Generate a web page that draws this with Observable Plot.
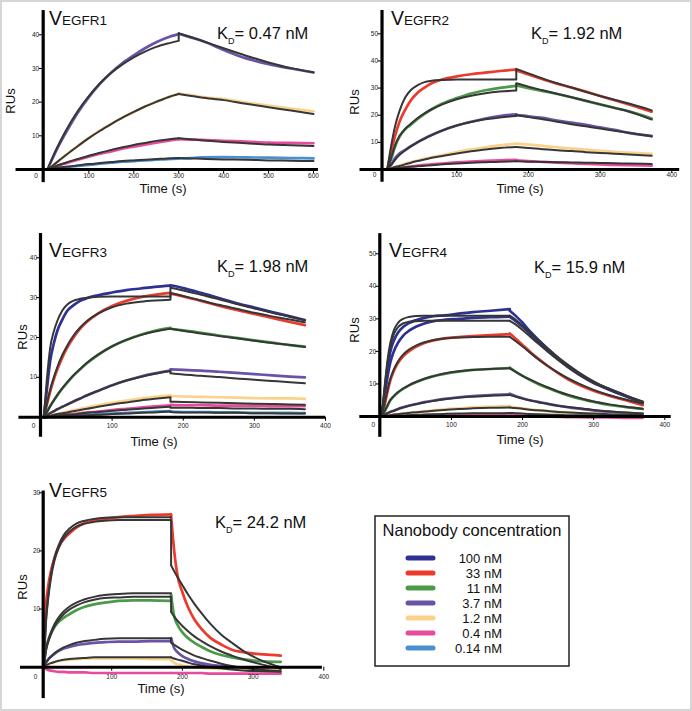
<!DOCTYPE html>
<html><head><meta charset="utf-8">
<script src="https://cdn.jsdelivr.net/npm/d3@7"></script>
<script src="https://cdn.jsdelivr.net/npm/@observablehq/plot@0.6"></script>
<style>
body{margin:0;background:#fff;}
#fig{position:relative;width:692px;height:711px;overflow:hidden;background:#fff;font-family:"Liberation Sans",Arial,Helvetica,sans-serif;}
#frame{position:absolute;left:0;top:0;width:692px;height:711px;box-sizing:border-box;border:2px solid #d6d6d6;pointer-events:none;}
</style></head><body><div id="fig"><div id="frame"></div></div>
<script>
// ---------- shared categories ----------
const concLabels = ["100 nM","33 nM","11 nM","3.7 nM","1.2 nM","0.4 nM","0.14 nM"];
const concColors = ["#2e3192","#ec3b2c","#4b9a48","#6a53a6","#fcd28b","#e84b9b","#4a8fd0"];
const panelNames = ["VEGFR1","VEGFR2","VEGFR3","VEGFR4","VEGFR5"];
const kdValues = ["0.47","1.92","1.98","15.9","24.2"];
const legendTitle = "Nanobody concentration";

// ---------- Panel 1: VEGFR1 ----------
const p1XTicks = [100,200,300,400,500,600];
const p1YTicks = [10,20,30,40];
const p1TimeA = [8,20,35,50,75,100,125,150,175,200,225,250,275,300];
const p1TimeD = [300,325,350,400,450,500,550,600];
const p1DataA = {
  "3.7 nM": [0,3.5,7.6,11.2,16.8,21.5,25.5,28.8,31.6,33.9,36,37.8,39.2,40.2],
  "1.2 nM": [0,1.2,2.8,4.4,6.9,9.4,11.6,13.6,15.4,17.1,18.7,20.1,21.4,22.5],
  "0.4 nM": [0,0.6,1.3,1.9,2.9,3.8,4.7,5.4,6.2,6.8,7.4,8,8.5,9],
  "0.14 nM": [0,0.2,0.5,0.7,1.1,1.4,1.7,2,2.3,2.5,2.7,2.9,3.1,3.2]
};
const p1FitA = {
  "3.7 nM": [0,3.8,8,11.8,17.3,21.8,25.6,28.7,31.2,33.3,35,36.4,37.4,38.2],
  "1.2 nM": [0,1.2,2.8,4.4,6.9,9.3,11.5,13.5,15.4,17.1,18.7,20.1,21.4,22.4],
  "0.4 nM": [0,0.6,1.4,2.1,3.1,4.1,5,5.8,6.6,7.3,7.9,8.5,8.9,9.3],
  "0.14 nM": [0,0.3,0.6,0.8,1.2,1.6,1.9,2.2,2.5,2.7,2.9,3.1,3.3,3.4]
};
const p1DataD = {
  "3.7 nM": [40.3,39.3,38.3,35.5,33,31.3,30,28.8],
  "1.2 nM": [22.6,22.1,21.6,20.9,19.9,19,18.1,17.3],
  "0.4 nM": [9,8.9,8.8,8.5,8.3,8,7.9,7.8],
  "0.14 nM": [3.3,3.4,3.6,3.7,3.6,3.5,3.4,3.3]
};
const p1FitD = {
  "3.7 nM": [40.5,39.4,38.3,36,33.8,31.8,30.1,28.9],
  "1.2 nM": [22.4,21.9,21.4,20.6,19.5,18.5,17.5,16.5],
  "0.4 nM": [9.3,9,8.7,8.2,7.8,7.4,7.2,7],
  "0.14 nM": [3.4,3.3,3.2,3,2.9,2.7,2.6,2.5]
};

// ---------- Panel 2: VEGFR2 ----------
const p2XTicks = [100,200,300,400];
const p2YTicks = [10,20,30,40,50];
const p2TimeA = [3,8,14,20,28,36,45,55,65,80,100,120,140,160,183];
const p2TimeD = [183,200,220,240,260,280,300,320,340,372];
const p2DataA = {
  "33 nM": [0,6,12.5,17.5,22,25.5,28.2,30.2,31.8,33.2,34.3,35.1,35.7,36.3,36.8],
  "11 nM": [0,3.5,8.5,12,14.8,16.5,18.5,20.5,22.2,24.3,26.3,28,29.2,30.1,30.8],
  "3.7 nM": [0,1.5,4.2,5.9,7.2,8.6,10,11.4,12.7,14.4,16.2,17.6,18.8,19.7,20.3],
  "1.2 nM": [0,0.5,1,1.5,2.1,2.7,3.3,4,4.5,5.3,6.4,7.4,8.2,8.9,9.5],
  "0.4 nM": [0,0.2,0.4,0.6,0.9,1.1,1.4,1.7,1.9,2.2,2.6,2.9,3.2,3.4,3.6]
};
const p2FitA = {
  "33 nM": [0,8,16,21.5,26.5,29.3,31,32.2,32.7,33,33.2,33.2,33.2,33.2,33.2],
  "11 nM": [0,4,9,12.3,15,16.9,18.9,20.7,22.2,24,25.9,27.2,28.1,28.7,29.1],
  "3.7 nM": [0,1.6,3.6,5.3,7,8.5,10,11.4,12.7,14.4,16.2,17.5,18.5,19.2,19.7],
  "1.2 nM": [0,0.4,0.9,1.3,1.9,2.5,3.1,3.7,4.3,5,5.9,6.7,7.4,7.9,8.3],
  "0.4 nM": [0,0.2,0.4,0.6,0.8,1,1.2,1.4,1.6,1.9,2.2,2.5,2.7,2.9,3]
};
const p2DataD = {
  "33 nM": [36.5,35,33.3,31.6,30.2,28.7,27.1,25.5,24,21.3],
  "11 nM": [31,30,28.9,27.8,26.6,25.3,24,22.7,21.4,18.8],
  "3.7 nM": [20,19.6,19,18,17.3,16.5,15.5,14.6,13.5,12.4],
  "1.2 nM": [9.5,9.2,8.7,8.2,7.7,7.3,6.9,6.5,6.2,5.8],
  "0.4 nM": [3.4,3.1,2.8,2.5,2.3,2.1,1.9,1.7,1.6,1.4]
};
const p2FitD = {
  "33 nM": [37.1,35.4,33.5,31.8,30.2,28.6,27.1,25.7,24.3,21.8],
  "11 nM": [31.8,30.5,29.2,27.9,26.6,25.3,24,22.7,21.4,18.4],
  "3.7 nM": [20.1,19.3,18.5,17.6,16.7,15.9,15.1,14.3,13.5,12.2],
  "1.2 nM": [8.3,7.9,7.5,7.1,6.8,6.4,6.1,5.8,5.5,5.1],
  "0.4 nM": [3,2.9,2.8,2.7,2.6,2.5,2.4,2.3,2.2,2]
};

// ---------- Panel 3: VEGFR3 ----------
const p3XTicks = [100,200,300,400];
const p3YTicks = [10,20,30,40];
const p3TimeA = [4,8,13,18,23,30,37,45,55,65,80,100,120,140,160,182];
const p3TimeD = [182,200,225,250,275,300,325,350,371];
const p3DataA = {
  "100 nM": [0,6.5,14.2,18.5,21.7,24.5,26.7,28,29.2,29.9,30.6,31.3,31.9,32.3,32.7,33],
  "33 nM": [0,3,6.5,9.5,12,15,17.5,19.8,22.2,24,26,27.9,29.2,30.1,30.7,31.2],
  "11 nM": [0,1.2,2.8,4.2,5.5,7.2,8.7,10.3,12,13.6,15.6,17.8,19.4,20.7,21.7,22.4],
  "3.7 nM": [0,0.4,1,1.5,2,2.6,3.2,3.9,4.7,5.5,6.6,8,9.2,10.2,11,11.7],
  "1.2 nM": [0,0.2,0.4,0.6,0.8,1.1,1.4,1.7,2.1,2.5,3,3.6,4.2,4.7,5.1,5.5],
  "0.4 nM": [0,0.1,0.2,0.3,0.4,0.5,0.7,0.8,1,1.2,1.4,1.8,2.1,2.4,2.7,3],
  "0.14 nM": [0,0,0.1,0.1,0.2,0.2,0.3,0.4,0.5,0.6,0.7,0.9,1.1,1.2,1.4,1.5]
};
const p3FitA = {
  "100 nM": [0,9,17.5,21.5,24.2,26.8,28.3,29.2,29.7,30,30.2,30.3,30.3,30.3,30.3,30.3],
  "33 nM": [0,3.2,7,10,12.6,15.6,18,20.3,22.5,24.2,26,27.6,28.5,29,29.3,29.5],
  "11 nM": [0,1.2,2.8,4.2,5.6,7.3,8.8,10.4,12.1,13.7,15.7,17.8,19.4,20.6,21.5,22.2],
  "3.7 nM": [0,0.4,1,1.5,2,2.6,3.2,3.9,4.7,5.5,6.6,8,9.2,10.1,10.9,11.6],
  "1.2 nM": [0,0.2,0.4,0.6,0.8,1,1.2,1.5,1.8,2.1,2.6,3.2,3.7,4.2,4.6,5],
  "0.4 nM": [0,0.1,0.2,0.3,0.4,0.5,0.6,0.7,0.9,1.1,1.3,1.6,1.9,2.1,2.4,2.6],
  "0.14 nM": [0,0,0.1,0.1,0.2,0.2,0.3,0.3,0.4,0.5,0.6,0.8,0.9,1.1,1.2,1.4]
};
const p3DataD = {
  "100 nM": [33.1,32.4,31.2,29.9,28.6,27.5,26.4,25.3,24.4],
  "33 nM": [31,30.3,29.2,28,26.9,25.9,24.9,23.9,23.1],
  "11 nM": [22.2,21.8,21.2,20.5,19.9,19.3,18.7,18.1,17.7],
  "3.7 nM": [12,11.9,11.7,11.4,11.1,10.8,10.5,10.2,10],
  "1.2 nM": [5.3,5.2,5.1,5,4.9,4.8,4.7,4.7,4.6],
  "0.4 nM": [3.1,3,3,2.9,2.9,2.9,2.8,2.8,2.8],
  "0.14 nM": [1.4,1.3,1.3,1.2,1.2,1.1,1.1,1.1,1]
};
const p3FitD = {
  "100 nM": [32.5,31.8,30.7,29.6,28.4,27.3,26.2,25.2,24.3],
  "33 nM": [31.2,30.4,29.3,28.2,27.2,26.2,25.3,24.5,23.8],
  "11 nM": [22.2,21.7,21,20.4,19.8,19.2,18.6,18.1,17.6],
  "3.7 nM": [11,10.7,10.4,10.1,9.7,9.4,9.1,8.8,8.5],
  "1.2 nM": [3.9,3.8,3.7,3.6,3.5,3.4,3.3,3.2,3.1],
  "0.4 nM": [2.4,2.4,2.3,2.3,2.2,2.2,2.1,2.1,2],
  "0.14 nM": [1.3,1.2,1.2,1.1,1.1,1,1,0.9,0.9]
};

// ---------- Panel 4: VEGFR4 ----------
const p4XTicks = [100,200,300,400];
const p4YTicks = [10,20,30,40,50];
const p4TimeA = [2,6,10,14,19,25,32,40,50,62,75,90,110,130,155,182];
const p4TimeD = [182,190,200,210,222,235,250,265,280,300,320,345,369];
const p4DataA = {
  "100 nM": [0,7,14,19.8,23.3,25.8,27.5,28.7,29.6,30.3,30.8,31.1,31.6,32.1,32.5,33],
  "100 nM#2": [0,6,12,16.5,20,22.7,24.8,26.3,27.6,28.6,29.3,29.7,30,30.3,30.5,30.7],
  "33 nM": [0,3.5,7.5,11,14,16.5,18.5,20,21.4,22.6,23.4,24,24.4,24.7,25,25.3],
  "11 nM": [0,1.5,3.2,5,6.2,7.4,8.5,9.5,10.5,11.5,12.4,13.1,13.8,14.3,14.6,14.9],
  "3.7 nM": [0,0.5,1,1.4,1.8,2.3,2.8,3.3,3.8,4.4,4.9,5.4,5.9,6.3,6.6,6.8],
  "1.2 nM": [0,0.2,0.3,0.4,0.6,0.7,0.9,1.1,1.3,1.6,1.9,2.2,2.5,2.8,3,3.2],
  "0.4 nM": [0,0,0.1,0.1,0.1,0.2,0.2,0.3,0.3,0.4,0.5,0.5,0.6,0.7,0.7,0.8]
};
const p4FitA = {
  "100 nM": [0,9,17,22.5,26.5,28.8,30,30.6,30.9,31,31,31,31,31,31,31],
  "100 nM#2": [0,8.5,16,21.5,25.3,27.5,28.6,29.1,29.3,29.4,29.4,29.4,29.4,29.4,29.4,29.4],
  "33 nM": [0,4,8,11.5,14.5,17,19,20.5,21.8,22.8,23.5,24,24.3,24.4,24.5,24.5],
  "11 nM": [0,1.6,3.4,5,6.3,7.5,8.6,9.6,10.6,11.6,12.4,13.2,13.9,14.3,14.6,14.8],
  "3.7 nM": [0,0.5,1,1.4,1.8,2.3,2.8,3.3,3.8,4.3,4.8,5.3,5.8,6.1,6.4,6.6],
  "1.2 nM": [0,0.2,0.3,0.4,0.6,0.7,0.9,1.1,1.3,1.5,1.8,2,2.3,2.5,2.7,2.8],
  "0.4 nM": [0,0.1,0.1,0.2,0.2,0.3,0.3,0.4,0.5,0.6,0.7,0.8,0.9,1,1,1.1]
};
const p4DataD = {
  "100 nM": [32.5,31,28.8,26.3,23.6,20.9,18,15.3,13.1,10.5,8.6,6.4,4.4],
  "100 nM#2": [30.6,29.4,27.6,25.6,23,20.4,17.6,15,12.8,10.3,8.4,6.2,4.2],
  "33 nM": [25.5,24,22,20,17.8,15.6,13.3,11.3,9.7,7.9,6.5,5,3.5],
  "11 nM": [15,13.8,12.5,11.3,10,8.8,7.5,6.4,5.5,4.5,3.6,2.9,2.3],
  "3.7 nM": [7,6.3,5.6,5,4.5,3.9,3.3,2.8,2.4,1.9,1.5,1.1,0.8],
  "1.2 nM": [3,2.8,2.5,2.2,1.9,1.7,1.4,1.2,1,0.8,0.6,0.5,0.4],
  "0.4 nM": [0.5,0.4,0.3,0.2,0.1,0,-0.1,-0.2,-0.2,-0.3,-0.3,-0.4,-0.4]
};
const p4FitD = {
  "100 nM": [31,29.8,27.9,25.9,23.5,21,18.2,15.7,13.4,10.8,8.7,6.5,4.6],
  "100 nM#2": [29.4,28.3,26.6,24.7,22.4,20,17.4,15,12.9,10.4,8.4,6.3,4.4],
  "33 nM": [24.5,23.2,21.5,19.7,17.6,15.6,13.5,11.6,10,8.2,6.7,5.2,4],
  "11 nM": [14.8,13.8,12.5,11.4,10.2,9,7.7,6.6,5.7,4.6,3.8,3,2.4],
  "3.7 nM": [6.6,6.1,5.5,5,4.4,3.9,3.3,2.9,2.5,2,1.6,1.2,0.9],
  "1.2 nM": [2.8,2.6,2.4,2.1,1.9,1.7,1.4,1.2,1.1,0.9,0.7,0.6,0.5],
  "0.4 nM": [1.1,1,0.9,0.8,0.7,0.6,0.5,0.4,0.4,0.3,0.3,0.2,0.2]
};

// ---------- Panel 5: VEGFR5 ----------
const p5XTicks = [100,200,300,400];
const p5YTicks = [10,20,30];
const p5TimeA = [4,7,10,14,19,25,32,40,50,62,75,90,110,130,155,184];
const p5TimeD = [184,188,193,200,208,217,227,240,255,270,290,315,339];
const p5DataA = {
  "33 nM": [0,10.5,13.8,16.5,18.8,20.7,22,23,24,24.8,25.2,25.5,25.8,26,26.2,26.3],
  "11 nM": [0,3.2,4.6,5.8,6.9,7.8,8.5,9.1,9.8,10.4,10.8,11.1,11.4,11.5,11.5,11.4],
  "3.7 nM": [0,0.8,1.3,1.8,2.3,2.8,3.2,3.5,3.8,4,4.2,4.3,4.4,4.4,4.5,4.5],
  "1.2 nM": [0,0.3,0.5,0.7,0.9,1.1,1.2,1.3,1.4,1.5,1.5,1.5,1.5,1.5,1.4,1.4],
  "0.4 nM": [0,-0.3,-0.5,-0.6,-0.7,-0.8,-0.8,-0.9,-0.9,-0.9,-1,-1,-1,-1,-1,-1]
};
const p5FitA = {
  "33 nM": [0,8,12,15.8,18.8,21,22.7,23.8,24.7,25.2,25.5,25.7,25.8,25.8,25.8,25.8],
  "33 nM#2": [0,7.6,11.6,15.3,18.3,20.5,22.2,23.3,24.2,24.7,25,25.2,25.3,25.3,25.3,25.3],
  "11 nM": [0,3,4.5,6,7.4,8.6,9.6,10.4,11.1,11.7,12.1,12.4,12.6,12.7,12.7,12.7],
  "11 nM#2": [0,2.8,4.2,5.6,7,8.1,9.1,9.9,10.6,11.2,11.6,11.9,12,12.1,12.1,12.1],
  "3.7 nM": [0,0.8,1.3,1.8,2.4,2.9,3.4,3.8,4.2,4.5,4.7,4.9,5,5,5,5],
  "1.2 nM": [0,0.3,0.5,0.7,0.9,1.1,1.3,1.4,1.5,1.6,1.7,1.7,1.7,1.7,1.7,1.7]
};
const p5DataD = {
  "33 nM": [26,20.5,15.8,12.9,10.3,8.2,6.6,5,3.9,3,2.5,2.2,2],
  "11 nM": [12.5,9,7.3,6,5,4.2,3.5,2.7,2.1,1.7,1.3,1,0.9],
  "3.7 nM": [5,3.4,2.6,1.9,1.4,1,0.7,0.4,0.2,0,-0.2,-0.4,-0.5],
  "1.2 nM": [1.2,0.8,0.5,0.3,0.1,0,-0.1,-0.2,-0.3,-0.3,-0.4,-0.4,-0.5],
  "0.4 nM": [-1,-1,-1,-1,-1,-1,-1,-1.1,-1.1,-1.1,-1.1,-1.1,-1.1]
};
const p5FitD = {
  "33 nM#2": [17.5,16.6,15.5,14.1,12.5,10.9,9.3,7.4,5.6,4.2,2.5,1,0],
  "11 nM#2": [9.5,8.8,8,7.1,6.2,5.3,4.5,3.6,2.7,2,1.2,0.4,-0.3],
  "3.7 nM": [4.2,3.9,3.5,3,2.5,2,1.6,1.1,0.6,0.2,-0.2,-0.5,-0.7],
  "1.2 nM": [1.7,1.5,1.3,1.1,0.8,0.5,0.3,0,-0.2,-0.4,-0.6,-0.7,-0.8]
};

// ---------- layout (positions / styles only) ----------
const FONT = '"Liberation Sans", Arial, Helvetica, sans-serif';
const layouts = [
  {xD:[0,600], xR:[43.4,313], yD:[0,40], yR:[169,34.3], yAxisT:-1.6, yExt:[-3.9,47.2], xExt:[-62,611],
   xLabDy:6, yLabDx:-4, zeroDx:-7, title:[49,25], kd:[217,39], rus:[15,101], time:[163,193]},
  {xD:[0,400], xR:[384.6,671.3], yD:[0,50], yR:[169,33.3], yAxisT:-4.3, yExt:[-4.7,58.6], xExt:[-35,411],
   xLabDy:5.5, yLabDx:-4, zeroDx:-7.5, title:[391,25], kd:[531,39], rus:[359,102], time:[520,193]},
  {xD:[0,400], xR:[40.5,325], yD:[0,40], yR:[416.7,257.3], yAxisT:-0.7, yExt:[-5,46.1], xExt:[-31,400],
   xLabDy:8.3, yLabDx:-3.5, zeroDx:-7, title:[49,257], kd:[217,272], rus:[27,337], time:[154,446]},
  {xD:[0,400], xR:[379.8,664.3], yD:[0,50], yR:[416,253.3], yAxisT:-0.7, yExt:[-6.4,56.2], xExt:[-28.8,409],
   xLabDy:8.3, yLabDx:-3.5, zeroDx:-6.5, title:[389,257], kd:[534,273], rus:[359,330], time:[520,444]},
  {xD:[0,400], xR:[40.5,323.3], yD:[0,30], yR:[666.7,492.3], yAxisT:3.1, yExt:[-5.4,30.3], xExt:[-29,398],
   xLabDy:9.3, yLabDx:-3, zeroDx:-7.7, title:[49,497], kd:[215,528], rus:[27,587], time:[161,693]}
];
const panelData = [
  {xT:p1XTicks, yT:p1YTicks, tA:p1TimeA, tD:p1TimeD, dA:p1DataA, dD:p1DataD, fA:p1FitA, fD:p1FitD},
  {xT:p2XTicks, yT:p2YTicks, tA:p2TimeA, tD:p2TimeD, dA:p2DataA, dD:p2DataD, fA:p2FitA, fD:p2FitD},
  {xT:p3XTicks, yT:p3YTicks, tA:p3TimeA, tD:p3TimeD, dA:p3DataA, dD:p3DataD, fA:p3FitA, fD:p3FitD},
  {xT:p4XTicks, yT:p4YTicks, tA:p4TimeA, tD:p4TimeD, dA:p4DataA, dD:p4DataD, fA:p4FitA, fD:p4FitD},
  {xT:p5XTicks, yT:p5YTicks, tA:p5TimeA, tD:p5TimeD, dA:p5DataA, dD:p5DataD, fA:p5FitA, fD:p5FitD}
];

function tidy(time, obj, phase) {
  const out = [];
  for (const [key, vals] of Object.entries(obj)) {
    vals.forEach((v, i) => out.push({t: time[i], v, key: key + "|" + phase, conc: key.split("#")[0]}));
  }
  return out;
}
function joins(tA, A, D) {
  return Object.keys(A).filter(k => D[k]).map(k => ({
    t: tA[tA.length - 1], v1: A[k][A[k].length - 1], v2: D[k][0], conc: k.split("#")[0]
  }));
}

const fig = document.getElementById("fig");
const DATA_W = 2.7, FIT_W = 2, FIT_C = "#363636";

panelData.forEach((P, i) => {
  const L = layouts[i];
  const dataRows = [...tidy(P.tA, P.dA, "a"), ...tidy(P.tD, P.dD, "d")];
  const fitRows = [...tidy(P.tA, P.fA, "a"), ...tidy(P.tD, P.fD, "d")];
  const dataJ = joins(P.tA, P.dA, P.dD);
  const fitJ = joins(P.tA, P.fA, P.fD);
  const svg = Plot.plot({
    width: 692, height: 711, margin: 0,
    style: {background: "transparent", fontFamily: FONT, position: "absolute", left: "0px", top: "0px", maxWidth: "none", overflow: "visible"},
    x: {domain: L.xD, range: L.xR, axis: null},
    y: {domain: L.yD, range: L.yR, axis: null},
    color: {domain: concLabels, range: concColors},
    marks: [
      Plot.line(dataRows, {x: "t", y: "v", z: "key", stroke: "conc", strokeWidth: DATA_W, curve: "monotone-x"}),
      Plot.link(dataJ, {x1: "t", x2: "t", y1: "v1", y2: "v2", stroke: "conc", strokeWidth: DATA_W}),
      Plot.line(fitRows, {x: "t", y: "v", z: "key", stroke: FIT_C, strokeWidth: FIT_W, curve: "monotone-x"}),
      Plot.link(fitJ, {x1: "t", x2: "t", y1: "v1", y2: "v2", stroke: FIT_C, strokeWidth: FIT_W}),
      Plot.ruleY([0], {x1: L.xExt[0], x2: L.xExt[1], stroke: "#000", strokeWidth: 3}),
      Plot.ruleX([L.yAxisT], {x: d => d, y1: L.yExt[0], y2: L.yExt[1], stroke: "#000", strokeWidth: 3.2}),
      Plot.ruleX(P.xT, {x: d => d, y1: 0, y2: 0, insetBottom: -4, stroke: "#000", strokeWidth: 1}),
      Plot.ruleY(P.yT, {y: d => d, x1: L.yAxisT, x2: L.yAxisT, insetLeft: -4, stroke: "#000", strokeWidth: 1}),
      Plot.text(P.xT, {x: d => d, y: 0, dy: L.xLabDy, text: d => String(d), fontSize: 6.5, fill: "#222"}),
      Plot.text([0], {x: L.yAxisT, y: 0, dx: L.zeroDx, dy: L.xLabDy, text: d => String(d), fontSize: 6.5, fill: "#222"}),
      Plot.text(P.yT, {x: L.yAxisT, y: d => d, dx: L.yLabDx, textAnchor: "end", text: d => String(d), fontSize: 6.5, fill: "#222"})
    ]
  });
  const s = d3.select(svg);
  const name = panelNames[i];
  const t = s.append("text").attr("x", L.title[0]).attr("y", L.title[1]).attr("text-anchor", "start").attr("fill", "#111");
  t.append("tspan").attr("font-size", 19.5).text(name[0]);
  t.append("tspan").attr("font-size", 13.5).text(name.slice(1));
  const k = s.append("text").attr("x", L.kd[0]).attr("y", L.kd[1]).attr("text-anchor", "start").attr("font-size", 16.5).attr("fill", "#111");
  k.append("tspan").text("K");
  k.append("tspan").attr("font-size", 9).attr("dy", 5).text("D");
  k.append("tspan").attr("dy", -5).text("= " + kdValues[i] + " nM");
  s.append("text").attr("transform", `translate(${L.rus[0]},${L.rus[1]}) rotate(-90)`)
    .attr("text-anchor", "middle").attr("font-size", 13).attr("fill", "#111").text("RUs");
  s.append("text").attr("x", L.time[0]).attr("y", L.time[1]).attr("text-anchor", "middle")
    .attr("font-size", 13).attr("fill", "#111").text("Time (s)");
  fig.appendChild(svg);
});

// ---------- legend ----------
const lg = d3.create("svg").attr("width", 692).attr("height", 711)
  .style("position", "absolute").style("left", "0px").style("top", "0px")
  .style("font-family", FONT);
lg.append("rect").attr("x", 375).attr("y", 516).attr("width", 194).attr("height", 150)
  .attr("fill", "none").attr("stroke", "#222").attr("stroke-width", 1.5);
lg.append("text").attr("x", 472).attr("y", 536).attr("text-anchor", "middle").attr("font-size", 16.5)
  .attr("fill", "#111").text(legendTitle);
concLabels.forEach((c, i) => {
  const y = 558 + i * 15;
  lg.append("line").attr("x1", 408).attr("x2", 433).attr("y1", y).attr("y2", y)
    .attr("stroke", concColors[i]).attr("stroke-width", 5).attr("stroke-linecap", "round");
  lg.append("text").attr("x", 502).attr("y", y).attr("dy", "0.36em").attr("text-anchor", "end")
    .attr("font-size", 13).attr("fill", "#111").text(c);
});
fig.appendChild(lg.node());
fig.appendChild(document.getElementById("frame"));
</script></body></html>
